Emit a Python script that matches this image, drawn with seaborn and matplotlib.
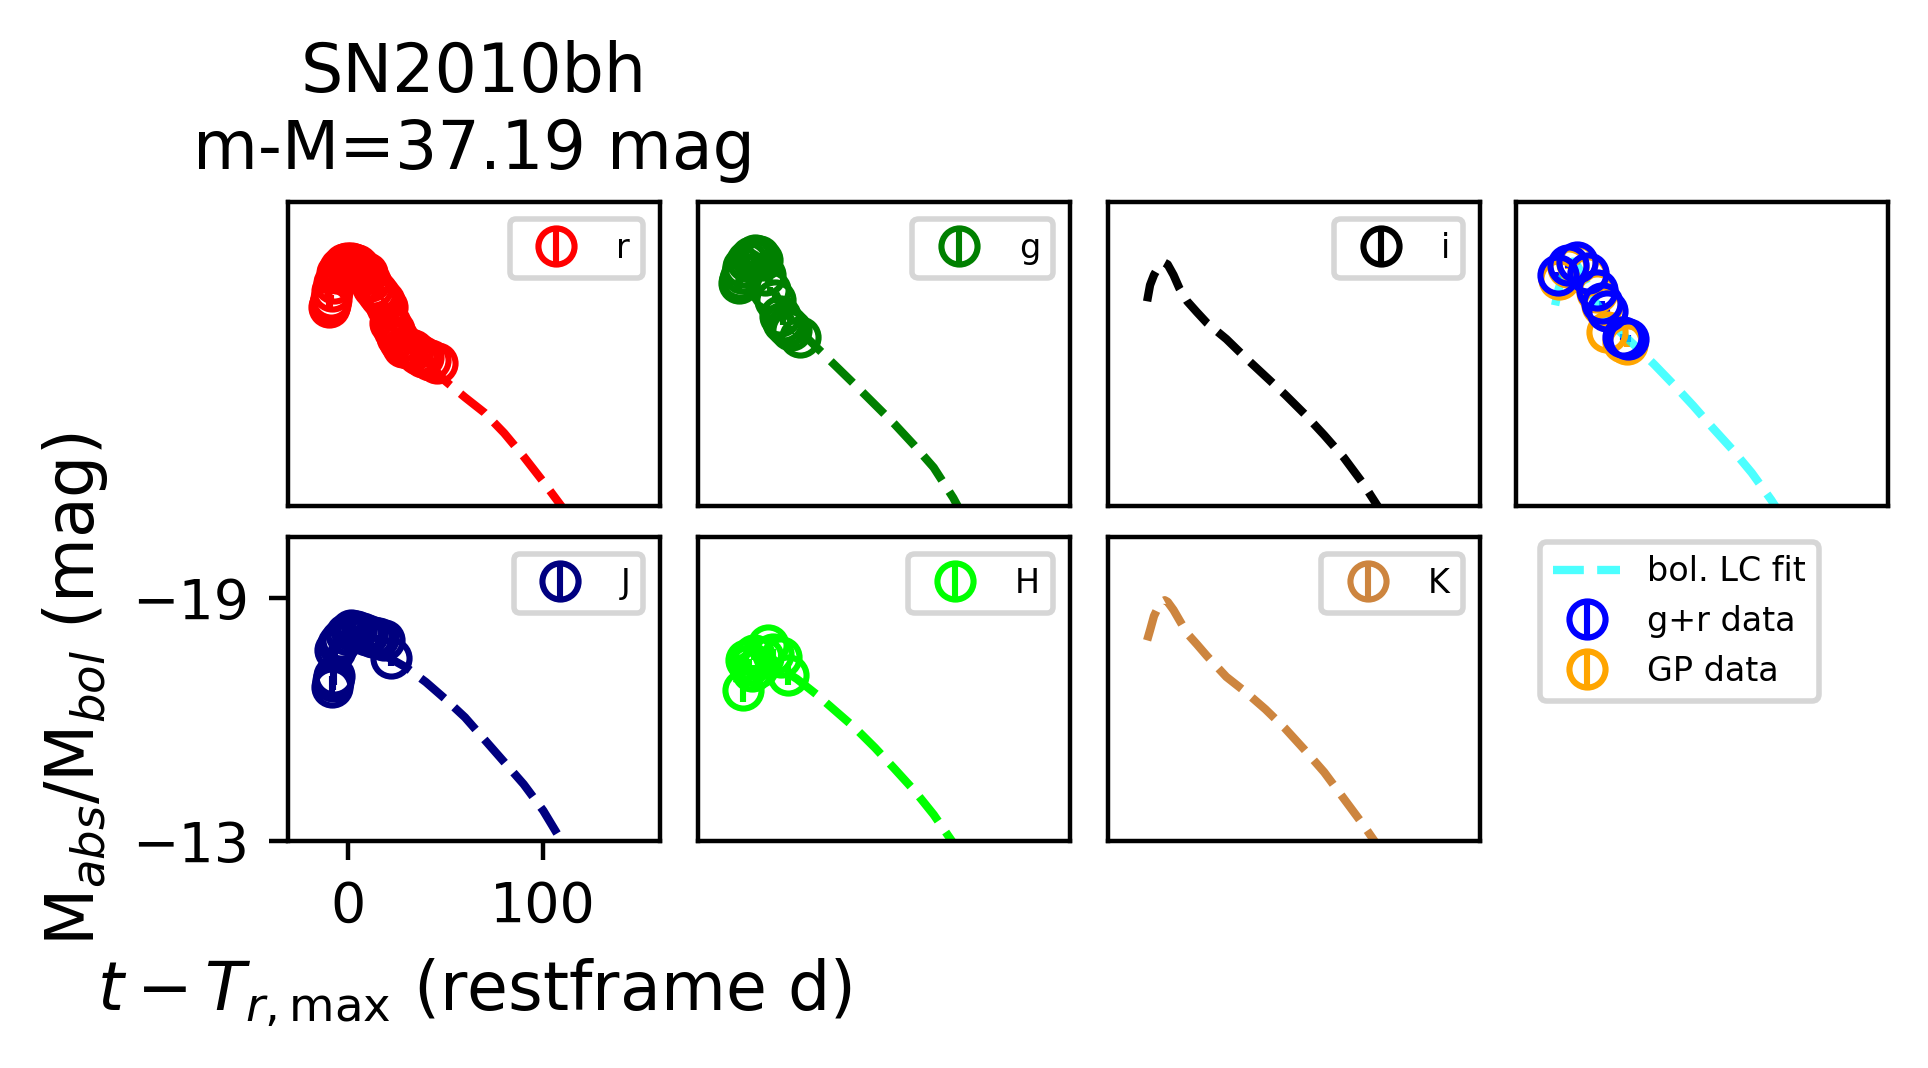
import numpy as np
import matplotlib
matplotlib.use("Agg")
import matplotlib.pyplot as plt
import seaborn as sns

# ---------------- data ----------------
title_text = "SN2010bh\nm-M=37.19 mag"
xlabel_text = r"$t-T_{r,\mathrm{max}}$ (restframe d)"
ylabel_text = r"M$_{abs}$/M$_{bol}$ (mag)"

bands = ["r", "g", "i", "J", "H", "K"]
band_colors = ["red", "green", "black", "navy", "lime", "peru"]

# model light-curve fits (time grid shared by all fits)
fit_t = [-10.5, -9, -7, -5, -3, -1.5, 0, 3, 6, 10, 15, 20, 30, 40, 50, 60, 70, 80, 90, 100, 110]
fit_r = [-18.05, -18.45, -18.70, -18.87, -18.97, -19.00, -18.96, -18.70, -18.37, -18.05, -17.78, -17.50,
         -17.10, -16.60, -16.08, -15.68, -15.30, -14.80, -14.22, -13.60, -12.95]
fit_g = [-18.25, -18.65, -18.90, -19.07, -19.17, -19.20, -19.15, -18.90, -18.55, -18.15, -17.75, -17.40,
         -16.92, -16.45, -15.98, -15.50, -15.02, -14.50, -13.95, -13.20, -12.30]
fit_i = [-18.05, -18.45, -18.70, -18.87, -18.97, -19.00, -18.96, -18.70, -18.37, -18.05, -17.78, -17.52,
         -17.12, -16.65, -16.20, -15.75, -15.27, -14.75, -14.20, -13.55, -12.80]
fit_J = [-17.25, -17.60, -17.85, -18.02, -18.12, -18.17, -18.17, -18.10, -18.00, -17.88, -17.70, -17.55,
         -17.28, -16.92, -16.50, -16.05, -15.50, -14.95, -14.40, -13.75, -12.95]
fit_H = [-16.90, -17.25, -17.50, -17.65, -17.75, -17.78, -17.77, -17.68, -17.52, -17.35, -17.15, -17.00,
         -16.62, -16.20, -15.78, -15.30, -14.78, -14.25, -13.65, -12.95, -12.20]
fit_K = [-17.95, -18.20, -18.55, -18.75, -18.90, -18.94, -18.90, -18.70, -18.45, -18.12, -17.85, -17.57,
         -17.05, -16.67, -16.25, -15.78, -15.25, -14.70, -14.05, -13.40, -12.70]
fit_bol = [-17.95, -18.30, -18.62, -18.85, -18.98, -19.03, -19.00, -18.75, -18.45, -18.05, -17.68, -17.42,
           -16.97, -16.50, -16.00, -15.48, -14.93, -14.40, -13.82, -13.15, -12.40]

# photometry (absolute magnitudes)
r_t = [-9.5, -9.0, -8.6, -8.0, -7.0, -5.6, -4.0, -2.0, -0.5, 1.5, 3.0, 4.6, 6.5, 8.5, 9.7, 11.5,
       13.1, 15.0, 16.5, 18.5, 19.9, 21.6, 23.5, 25.0, 27.0, 28.4, 31.0, 33.6, 36.0, 38.7, 42.0, 45.5]
r_m = [-17.92, -17.98, -18.10, -18.30, -18.50, -18.74, -18.88, -18.96, -18.99, -19.00, -18.98, -18.95,
       -18.86, -18.78, -18.74, -18.55, -18.41, -18.28, -18.17, -18.05, -17.92, -17.51, -17.35, -17.18,
       -17.05, -16.93, -16.90, -16.85, -16.75, -16.68, -16.60, -16.52]
r_e = [0.12, 0.10, 0.10, 0.08, 0.08, 0.06, 0.05, 0.05, 0.05, 0.05, 0.05, 0.05, 0.05, 0.05, 0.06, 0.06,
       0.06, 0.06, 0.07, 0.07, 0.07, 0.08, 0.08, 0.08, 0.09, 0.09, 0.10, 0.10, 0.10, 0.11, 0.12, 0.12]

g_t = [-9.5, -9.0, -8.0, -7.3, -5.5, -3.5, -1.4, 0.5, 2.0, 4.0, 6.3, 8.8, 11.4, 13.0, 14.8, 17.0, 21.6]
g_m = [-18.50, -18.60, -18.75, -18.90, -19.05, -19.15, -19.19, -19.18, -19.07, -18.70, -18.34, -18.09,
       -17.68, -17.55, -17.43, -17.35, -17.18]
g_e = [0.12, 0.10, 0.10, 0.08, 0.07, 0.06, 0.06, 0.06, 0.06, 0.07, 0.07, 0.08, 0.08, 0.09, 0.09, 0.10, 0.12]

i_t = []
i_m = []
i_e = []

J_t = [-8.1, -7.5, -7.2, -6.3, -5.0, -3.6, -1.0, 1.9, 4.5, 7.4, 10.0, 12.9, 15.5, 18.4, 22.0]
J_m = [-16.81, -16.95, -17.06, -17.71, -17.85, -17.96, -18.10, -18.20, -18.18, -18.12, -18.08, -18.04,
       -18.00, -17.96, -17.51]
J_e = [0.25, 0.22, 0.20, 0.15, 0.12, 0.10, 0.10, 0.08, 0.08, 0.08, 0.08, 0.08, 0.09, 0.10, 0.20]

H_t = [-7.7, -6.0, -4.5, -3.0, -1.7, 0.0, 2.5, 5.1, 8.0, 11.9, 15.3]
H_m = [-16.72, -17.46, -17.35, -17.20, -17.59, -17.30, -17.55, -17.83, -17.62, -17.55, -17.09]
H_e = [0.30, 0.20, 0.15, 0.15, 0.12, 0.12, 0.12, 0.10, 0.12, 0.15, 0.25]

K_t = []
K_m = []
K_e = []

gr_t = [-8.9, -3.8, 0.5, 6.5, 10.8, 13.3, 15.8, 24.3, 26.8]
gr_m = [-18.70, -18.94, -19.03, -18.74, -18.33, -18.00, -17.80, -17.17, -17.13]
gr_e = [0.08, 0.06, 0.05, 0.05, 0.06, 0.06, 0.07, 0.08, 0.08]

gp_t = [-8.4, -3.8, 0.5, 6.5, 10.8, 13.3, 15.8, 24.3, 26.3]
gp_m = [-18.60, -18.90, -19.00, -18.70, -18.28, -17.95, -17.30, -17.05, -17.00]
gp_e = [0.08, 0.06, 0.05, 0.05, 0.06, 0.06, 0.07, 0.08, 0.08]

x_limits = (-30.5, 159.7)
y_limits = (-13.0, -20.5)
x_ticks = [0, 100]
y_ticks = [-19, -13]

# ---------------- figure ----------------
W, H = 1928, 1068
DPI = 400
fig = plt.figure(figsize=(W / DPI, H / DPI), dpi=DPI)
fig.patch.set_facecolor("white")

col_left = [288, 698, 1108, 1516]
row_top = [202, 537]
aw, ah = 372, 304


def make_ax(row, col):
    l = col_left[col]
    t = row_top[row]
    return fig.add_axes([l / W, 1 - (t + ah) / H, aw / W, ah / H])


band_t = [r_t, g_t, i_t, J_t, H_t, K_t]
band_m = [r_m, g_m, i_m, J_m, H_m, K_m]
band_e = [r_e, g_e, i_e, J_e, H_e, K_e]
band_fit = [fit_r, fit_g, fit_i, fit_J, fit_H, fit_K]
slots = [(0, 0), (0, 1), (0, 2), (1, 0), (1, 1), (1, 2)]

eb_kw = dict(fmt="o", mfc="none", ms=6.5, mew=1.1, elinewidth=1.1, capsize=0)

axes = []
for b, col, t, m, e, fit, slot in zip(bands, band_colors, band_t, band_m, band_e, band_fit, slots):
    ax = make_ax(*slot)
    axes.append(ax)
    sns.lineplot(x=fit_t, y=fit, ax=ax, color=col, linestyle="--", linewidth=1.5,
                 legend=False, sort=False, estimator=None)
    ax.errorbar(t, m, yerr=e, color=col, mec=col, ecolor=col, label=b, **eb_kw)
    ax.legend(loc="upper right", fontsize=6)

# bolometric panel
axb = make_ax(0, 3)
h_gp = axb.errorbar(gp_t, gp_m, yerr=gp_e, color="orange", mec="orange", ecolor="orange",
                    label="GP data", **eb_kw)
h_gr = axb.errorbar(gr_t, gr_m, yerr=gr_e, color="blue", mec="blue", ecolor="blue",
                    label="g+r data", **eb_kw)
sns.lineplot(x=fit_t, y=fit_bol, ax=axb, color="cyan", alpha=0.7, linestyle="--", linewidth=1.5,
             legend=False, sort=False, estimator=None)
h_fit = axb.lines[-1]
h_fit.set_label("bol. LC fit")
fig.legend([h_fit, h_gr, h_gp], ["bol. LC fit", "g+r data", "GP data"], fontsize=6,
           loc="upper left", bbox_to_anchor=(1540 / W, 1 - 542 / H), borderaxespad=0.0)
axes.append(axb)

for ax in axes:
    ax.set_xlim(*x_limits)
    ax.set_ylim(*y_limits)
    ax.set_xlabel("")
    ax.set_ylabel("")
    ax.set_xticks([])
    ax.set_yticks([])

axJ = axes[3]
axJ.set_xticks(x_ticks)
axJ.set_yticks(y_ticks)
axJ.set_xticklabels([str(v) for v in x_ticks])
axJ.set_yticklabels(["\u2212" + str(abs(v)) for v in y_ticks])
axJ.set_xlabel(xlabel_text, fontsize=12)
axJ.set_ylabel(ylabel_text, fontsize=12)

axes[0].set_title(title_text, fontsize=12)

fig.savefig("out.png", dpi=DPI, facecolor="white")
